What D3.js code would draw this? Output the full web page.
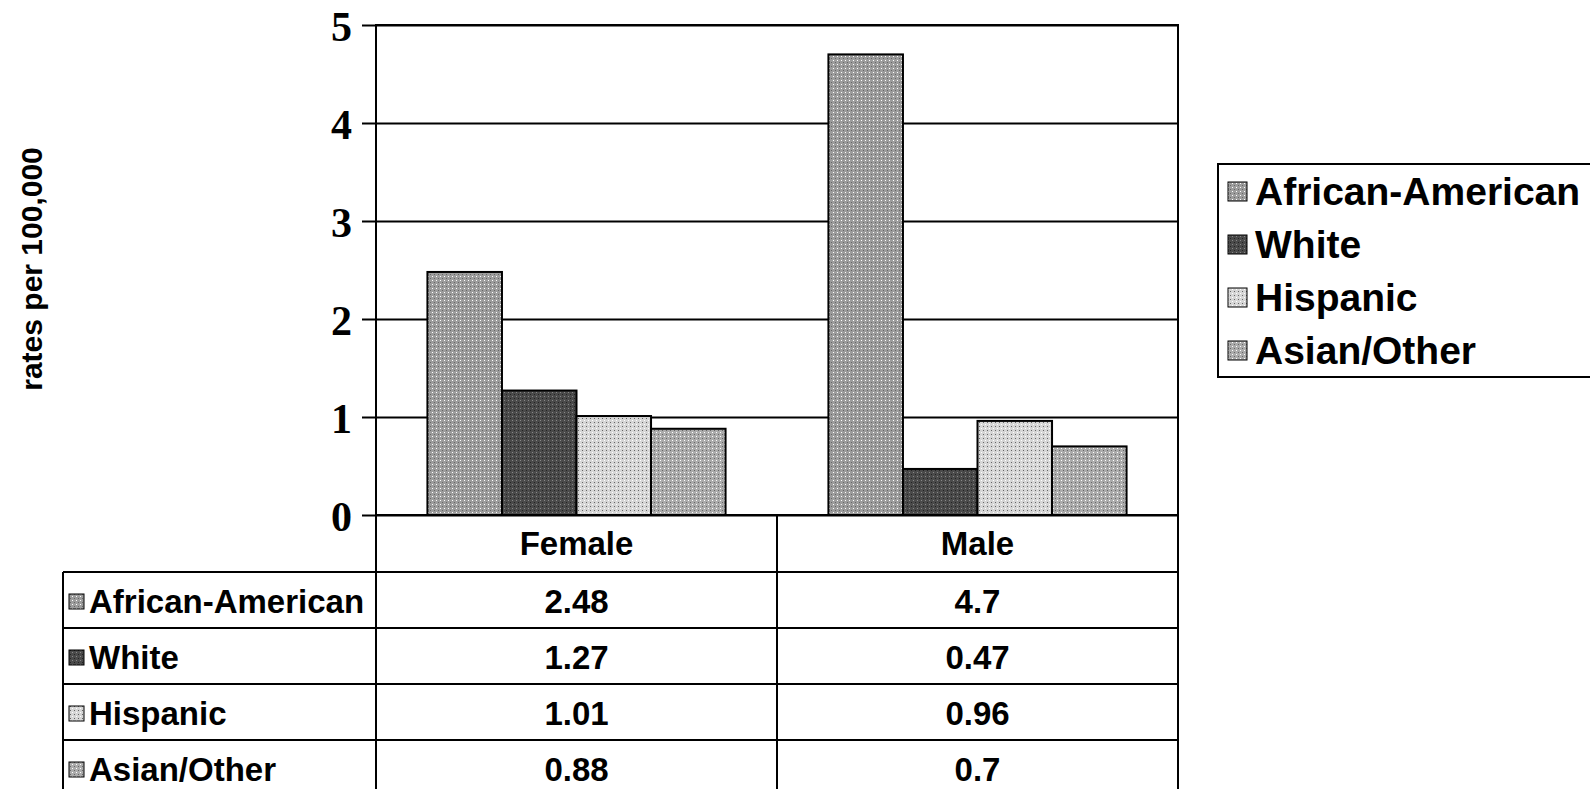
<!DOCTYPE html>
<html>
<head>
<meta charset="utf-8">
<script src="https://cdn.jsdelivr.net/npm/d3@7/dist/d3.min.js"></script>
<style>
  body { margin: 0; background: #fff; }
  svg { display: block; }
</style>
</head>
<body>
<script>
const categories = ['Female', 'Male'];
const seriesNames = ['African-American', 'White', 'Hispanic', 'Asian/Other'];
const africanAmerican = [2.48, 4.7];
const white = [1.27, 0.47];
const hispanic = [1.01, 0.96];
const asianOther = [0.88, 0.7];
const tableLabels = [['2.48', '4.7'], ['1.27', '0.47'], ['1.01', '0.96'], ['0.88', '0.7']];
const yTicks = [0, 1, 2, 3, 4, 5];

const seriesValues = [africanAmerican, white, hispanic, asianOther];
const fills = ['#9c9c9c', '#4a4a4a', '#d6d6d6', '#ababab'];

const W = 1590, H = 789;
const plot = { left: 376, right: 1178, top: 25, bottom: 515 };
const rowH = 56;
const tableLeft = 63;

const svg = d3.select('body').append('svg')
  .attr('width', W)
  .attr('height', H);

// halftone-ish fills
const defs = svg.append('defs');
fills.forEach((c, i) => {
  const p = defs.append('pattern')
    .attr('id', 'pat' + i)
    .attr('width', 4).attr('height', 4)
    .attr('patternUnits', 'userSpaceOnUse');
  p.append('rect').attr('width', 4).attr('height', 4).attr('fill', c);
  p.append('rect').attr('x', 0).attr('y', 0).attr('width', 1).attr('height', 1)
    .attr('fill', i === 1 ? '#888' : '#fff');
  p.append('rect').attr('x', 2).attr('y', 2).attr('width', 1).attr('height', 1)
    .attr('fill', i === 1 ? '#222' : '#666');
});

const y = d3.scaleLinear().domain([0, 5]).range([plot.bottom, plot.top]);
const x0 = d3.scaleBand().domain(categories).range([plot.left, plot.right]).paddingInner(0).paddingOuter(0);
const x1 = d3.scaleBand().domain(seriesNames).range([0, x0.bandwidth()]).paddingOuter(0.69).paddingInner(0);

// gridlines + ticks
const yAxis = d3.axisLeft(y).tickValues(yTicks).tickSize(-(plot.right - plot.left)).tickPadding(24)
  .tickFormat(d3.format('d'));
const gy = svg.append('g')
  .attr('transform', `translate(${plot.left},0)`)
  .call(yAxis);
gy.select('.domain').remove();
gy.selectAll('.tick line').attr('stroke', '#000').attr('stroke-width', 2)
  .attr('x1', -14);
gy.selectAll('.tick text')
  .attr('font-family', '"Liberation Serif", "Times New Roman", serif')
  .attr('font-weight', 'bold')
  .attr('font-size', 42)
  .attr('fill', '#000')
  .attr('dy', '0.38em');

// bars
const groups = svg.append('g').selectAll('g')
  .data(categories)
  .join('g')
  .attr('transform', d => `translate(${x0(d)},0)`);

groups.selectAll('rect')
  .data((c, ci) => seriesNames.map((s, si) => ({ s, si, v: seriesValues[si][ci] })))
  .join('rect')
  .attr('x', d => x1(d.s))
  .attr('y', d => y(d.v))
  .attr('width', x1.bandwidth())
  .attr('height', d => y(0) - y(d.v))
  .attr('fill', d => `url(#pat${d.si})`)
  .attr('stroke', '#000')
  .attr('stroke-width', 2);

// plot frame
svg.append('rect')
  .attr('x', plot.left).attr('y', plot.top)
  .attr('width', plot.right - plot.left).attr('height', plot.bottom - plot.top)
  .attr('fill', 'none').attr('stroke', '#000').attr('stroke-width', 2);

// data table
const tbl = svg.append('g').attr('font-family', '"Liberation Sans", Arial, sans-serif')
  .attr('font-weight', 'bold').attr('font-size', 33).attr('fill', '#000');

const rowTop = i => plot.bottom + rowH * (i + 1) + 1;

// header row
tbl.selectAll('text.hdr')
  .data(categories)
  .join('text')
  .attr('class', 'hdr')
  .attr('x', d => x0(d) + x0.bandwidth() / 2)
  .attr('y', plot.bottom + rowH / 2 + 12)
  .attr('text-anchor', 'middle')
  .text(d => d);

// horizontal lines
tbl.append('line')
  .attr('x1', plot.left).attr('x2', plot.right)
  .attr('y1', plot.bottom).attr('y2', plot.bottom);
seriesNames.forEach((s, i) => {
  tbl.append('line')
    .attr('x1', tableLeft).attr('x2', plot.right)
    .attr('y1', rowTop(i)).attr('y2', rowTop(i));
});
tbl.selectAll('line').attr('stroke', '#000').attr('stroke-width', 2);

// vertical lines
[plot.left, x0('Male'), plot.right].forEach(xv => {
  tbl.append('line').attr('x1', xv).attr('x2', xv)
    .attr('y1', plot.bottom).attr('y2', H)
    .attr('stroke', '#000').attr('stroke-width', 2);
});
tbl.append('line').attr('x1', tableLeft).attr('x2', tableLeft)
  .attr('y1', rowTop(0)).attr('y2', H)
  .attr('stroke', '#000').attr('stroke-width', 2);

seriesNames.forEach((s, i) => {
  const cy = rowTop(i) + rowH / 2;
  tbl.append('rect')
    .attr('x', 69).attr('y', cy - 6)
    .attr('width', 15).attr('height', 15)
    .attr('fill', `url(#pat${i})`).attr('stroke', '#000').attr('stroke-width', 1);
  tbl.append('text')
    .attr('x', 89).attr('y', cy + 13)
    .text(s);
  categories.forEach((c, ci) => {
    tbl.append('text')
      .attr('x', x0(c) + x0.bandwidth() / 2)
      .attr('y', cy + 13)
      .attr('text-anchor', 'middle')
      .text(tableLabels[i][ci]);
  });
});

// legend
const lg = svg.append('g').attr('transform', 'translate(1218,164)');
lg.append('rect')
  .attr('width', 380).attr('height', 213)
  .attr('fill', '#fff').attr('stroke', '#000').attr('stroke-width', 2);
const items = lg.selectAll('g.item')
  .data(seriesNames)
  .join('g')
  .attr('class', 'item')
  .attr('transform', (d, i) => `translate(10,${27 + i * 53})`);
items.append('rect')
  .attr('x', 0).attr('y', -9)
  .attr('width', 19).attr('height', 19)
  .attr('fill', (d, i) => `url(#pat${i})`)
  .attr('stroke', '#000').attr('stroke-width', 1);
items.append('text')
  .attr('x', 27).attr('y', 14)
  .attr('font-family', '"Liberation Sans", Arial, sans-serif')
  .attr('font-weight', 'bold')
  .attr('font-size', 39)
  .text(d => d);

// y title
svg.append('text')
  .attr('transform', 'translate(42,269) rotate(-90)')
  .attr('text-anchor', 'middle')
  .attr('font-family', '"Liberation Sans", Arial, sans-serif')
  .attr('font-weight', 'bold')
  .attr('font-size', 30)
  .text('rates per 100,000');
</script>
</body>
</html>
